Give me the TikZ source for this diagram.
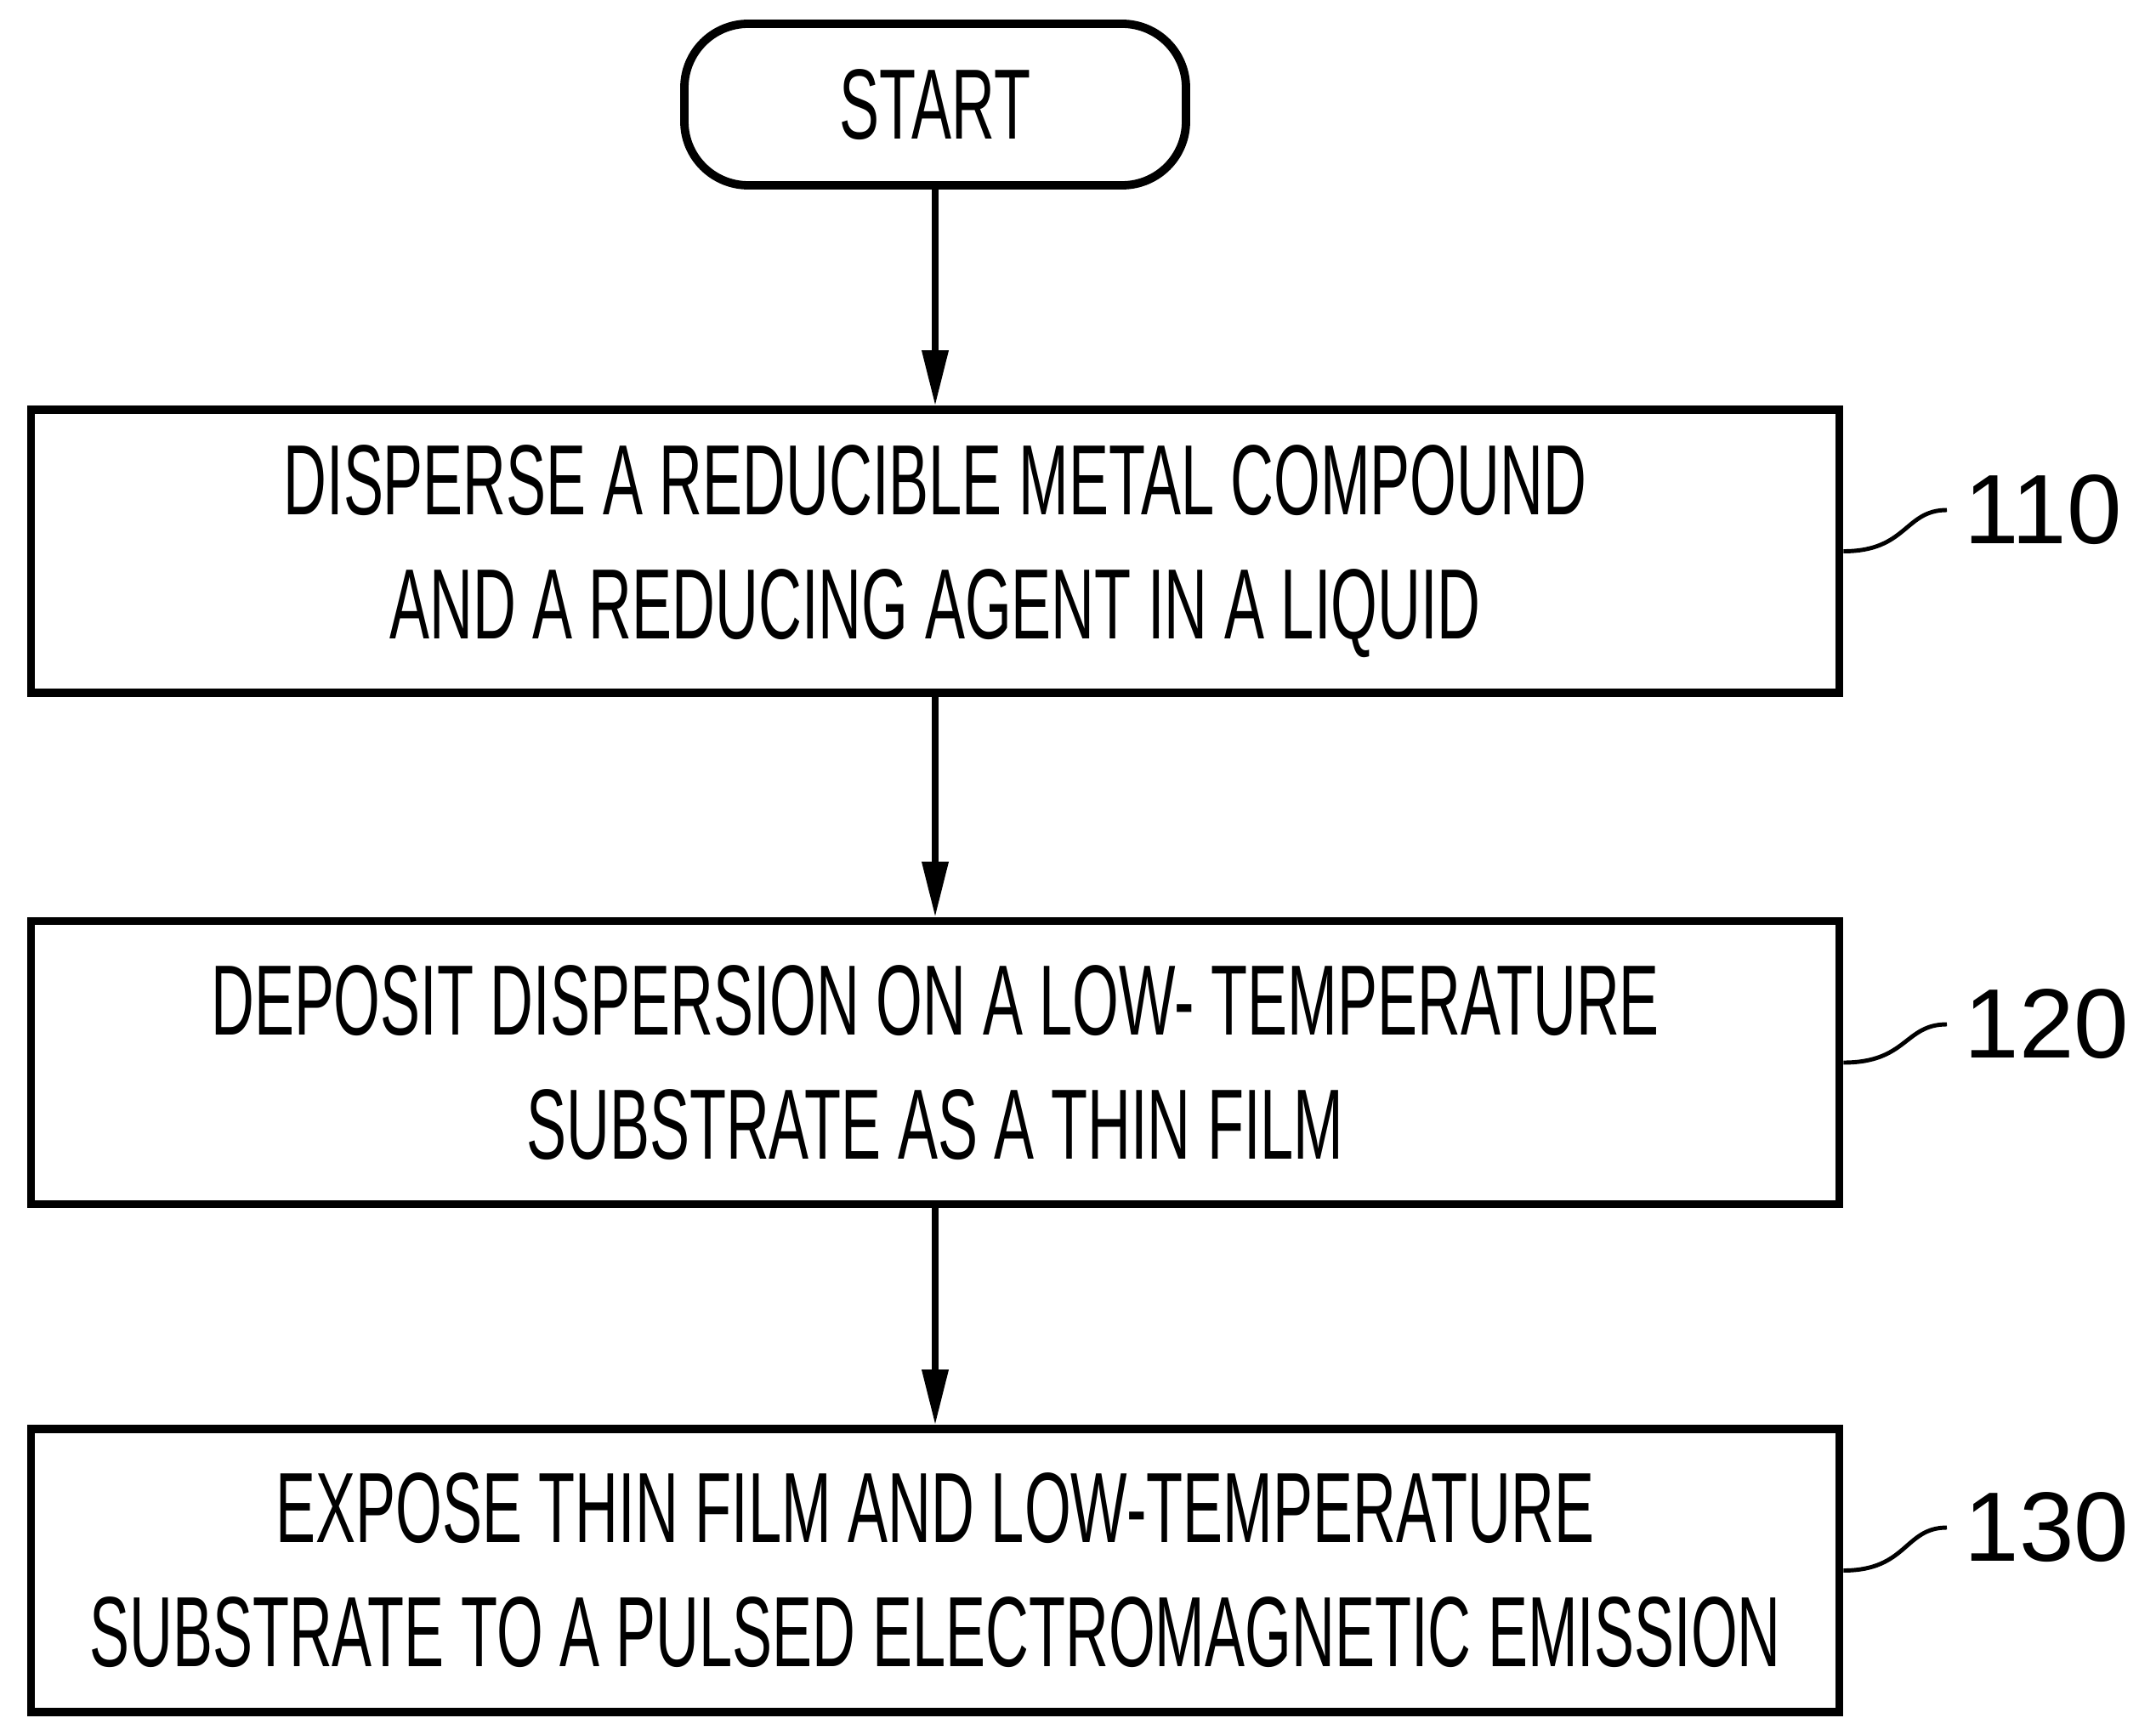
\documentclass[tikz,border=0pt]{standalone}
\usepackage{fontspec}
\setmainfont{Liberation Sans}[FakeStretch=0.6]
\newfontfamily\numfont{Liberation Sans}
\usetikzlibrary{arrows.meta}

\begin{document}
\begin{tikzpicture}
\tikzstyle{stepbox}=[draw, line width=2.8pt, minimum width=21.27cm, minimum height=3.33cm, align=center, inner sep=0pt, font=\fontsize{33.4}{41.5}\selectfont]
\tikzstyle{terminal}=[draw, line width=2.8pt, rounded corners=0.75cm, minimum width=5.9cm, minimum height=1.9cm, font=\fontsize{33.4}{41.5}\selectfont]
\tikzstyle{flow}=[line width=2pt, -{Triangle[length=0.65cm,width=0.3cm]}]
\tikzstyle{refnum}=[inner sep=0.2cm, anchor=west, font=\numfont\fontsize{33}{40}\selectfont]
\tikzstyle{leader}=[line width=1.4pt]

\useasboundingbox (0,0) rectangle (25.36,-20.21);

\node[terminal] (start) at (11.0,-1.23) {START};
\node[stepbox] (disperse) at (11.0,-6.485) {DISPERSE A REDUCIBLE METAL COMPOUND\\AND A REDUCING AGENT IN A LIQUID};
\node[stepbox] (deposit) at (11.0,-12.5) {DEPOSIT DISPERSION ON A LOW- TEMPERATURE\\SUBSTRATE AS A THIN FILM};
\node[stepbox] (expose) at (11.0,-18.475) {EXPOSE THIN FILM AND LOW-TEMPERATURE\\SUBSTRATE TO A PULSED ELECTROMAGNETIC EMISSION};

\draw[flow] (start.south) -- (disperse.north);
\draw[flow] (disperse.south) -- (deposit.north);
\draw[flow] (deposit.south) -- (expose.north);

% reference numerals with their leader lines
\node[refnum] (r110) at (22.9,-6.0) {110};
\node[refnum] (r120) at (22.9,-12.05) {120};
\node[refnum] (r130) at (22.9,-17.97) {130};
\draw[leader] (disperse.east) .. controls +(0.75,0) and +(-0.5,0) .. (r110.west);
\draw[leader] (deposit.east) .. controls +(0.75,0) and +(-0.5,0) .. (r120.west);
\draw[leader] (expose.east) .. controls +(0.75,0) and +(-0.5,0) .. (r130.west);
\end{tikzpicture}
\end{document}
